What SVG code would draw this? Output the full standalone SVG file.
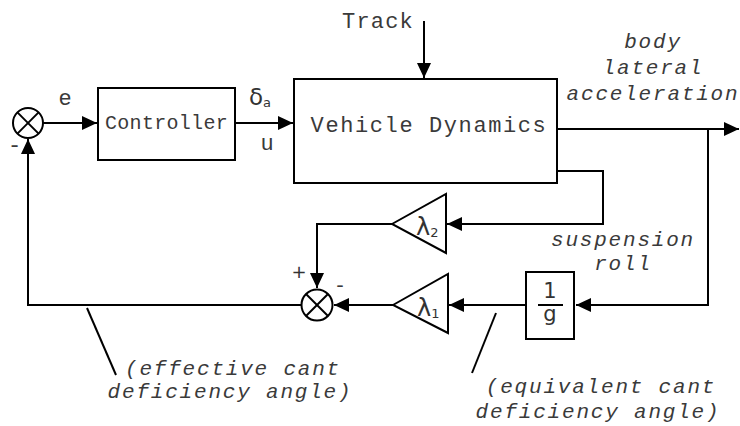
<svg xmlns="http://www.w3.org/2000/svg" width="740" height="426" viewBox="0 0 740 426">
<style>
.ln{fill:none;stroke:#000;stroke-width:2}
.box{fill:#fff;stroke:#000;stroke-width:2}
.mono{font-family:"Liberation Mono","DejaVu Sans Mono",monospace;fill:#3a3a3a}
.it{font-family:"Liberation Mono","DejaVu Sans Mono",monospace;font-style:italic;fill:#3a3a3a;font-size:21px;letter-spacing:1.8px}
.sym{font-family:"DejaVu Sans","Liberation Sans",sans-serif;fill:#333}
</style>
<defs>
<marker id="ah" markerUnits="userSpaceOnUse" markerWidth="16" markerHeight="14" refX="15" refY="7" orient="auto">
<path d="M0,0 L15,7 L0,14 Z" fill="#000"/>
</marker>
</defs>
<rect width="740" height="426" fill="#fff"/>
<g id="connectors">
<line class="ln" x1="43" y1="123" x2="97" y2="123" marker-end="url(#ah)"/>
<line class="ln" x1="235" y1="123" x2="293" y2="123" marker-end="url(#ah)"/>
<line class="ln" x1="424" y1="21" x2="424" y2="78" marker-end="url(#ah)"/>
<line class="ln" x1="557" y1="129" x2="739" y2="129" marker-end="url(#ah)"/>
<polyline class="ln" points="708,129 708,305 576,305" marker-end="url(#ah)"/>
<polyline class="ln" points="557,171 603,171 603,224 447,224" marker-end="url(#ah)"/>
<polyline class="ln" points="392,224 317,224 317,288" marker-end="url(#ah)"/>
<line class="ln" x1="526" y1="305" x2="449" y2="305" marker-end="url(#ah)"/>
<line class="ln" x1="393" y1="305" x2="334" y2="305" marker-end="url(#ah)"/>
<polyline class="ln" points="302,305 28,305 28,139" marker-end="url(#ah)"/>
<line class="ln" x1="87" y1="308" x2="116" y2="375" stroke-width="1.5"/>
<line class="ln" x1="496" y1="313" x2="472" y2="373" stroke-width="1.5"/>
</g>
<g id="sum1">
<circle class="box" cx="28" cy="123" r="15"/>
<line class="ln" x1="17.4" y1="112.4" x2="38.6" y2="133.6"/>
<line class="ln" x1="38.6" y1="112.4" x2="17.4" y2="133.6"/>
<text class="mono" x="8" y="152" font-size="22">-</text>
</g>
<g id="controller">
<rect class="box" x="98" y="88" width="137" height="72"/>
<text class="mono" x="166.5" y="129" font-size="20" letter-spacing="0.3" text-anchor="middle">Controller</text>
</g>
<text class="mono" x="65" y="105" font-size="22" text-anchor="middle">e</text>
<text class="sym" x="249" y="105" font-size="23">δ<tspan font-size="13" dy="2">a</tspan></text>
<text class="mono" x="267" y="150" font-size="22" text-anchor="middle">u</text>
<g id="vehicle">
<rect class="box" x="294" y="79" width="263" height="104"/>
<text class="mono" x="429" y="132" font-size="22" letter-spacing="1.6" text-anchor="middle">Vehicle Dynamics</text>
</g>
<text class="mono" x="342" y="28" font-size="22" letter-spacing="1.2">Track</text>
<g id="out-label">
<text class="it" x="653" y="48" text-anchor="middle">body</text>
<text class="it" x="653" y="74" text-anchor="middle">lateral</text>
<text class="it" x="653" y="100" text-anchor="middle">acceleration</text>
</g>
<g id="lambda2">
<polygon class="box" points="392,224 446,194 446,253"/>
<text class="sym" x="416" y="235" font-size="24">λ<tspan font-size="13" dy="2">2</tspan></text>
</g>
<g id="susp-label">
<text class="it" x="623" y="246" text-anchor="middle">suspension</text>
<text class="it" x="623" y="270" text-anchor="middle">roll</text>
</g>
<g id="sum2">
<circle class="box" cx="317" cy="305" r="15.5"/>
<line class="ln" x1="306" y1="294" x2="328" y2="316"/>
<line class="ln" x1="328" y1="294" x2="306" y2="316"/>
<text class="sym" x="299" y="278" font-size="18" text-anchor="middle">+</text>
<text class="mono" x="340" y="292" font-size="20" text-anchor="middle">-</text>
</g>
<g id="lambda1">
<polygon class="box" points="393,305 448,274 448,333"/>
<text class="sym" x="417" y="316" font-size="24">λ<tspan font-size="13" dy="2">1</tspan></text>
</g>
<g id="inv-g">
<rect class="box" x="526" y="272" width="48" height="67"/>
<text class="sym" x="550" y="298" font-size="21" text-anchor="middle">1</text>
<line class="ln" x1="538" y1="305" x2="563" y2="305" stroke-width="1.5"/>
<text class="sym" x="550" y="321" font-size="21" text-anchor="middle">g</text>
</g>
<g id="eff-label">
<text class="it" x="233" y="375" text-anchor="middle">(effective cant</text>
<text class="it" x="230" y="398" text-anchor="middle">deficiency angle)</text>
</g>
<g id="equ-label">
<text class="it" x="601" y="393" text-anchor="middle">(equivalent cant</text>
<text class="it" x="598" y="418" text-anchor="middle">deficiency angle)</text>
</g>
</svg>
